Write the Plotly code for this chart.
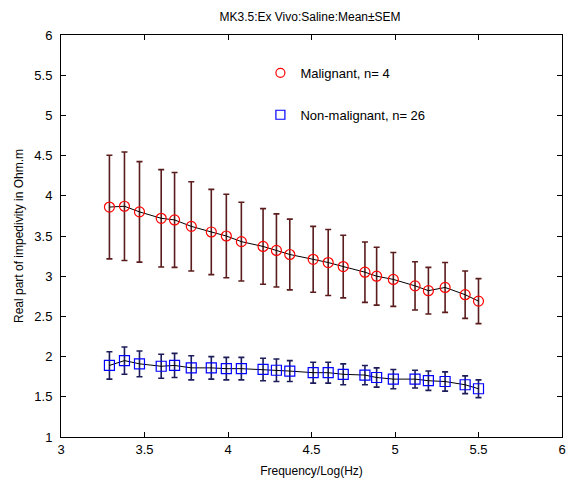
import plotly.graph_objects as go

freq_log = [3.29, 3.38, 3.47, 3.60, 3.68, 3.78, 3.90, 3.99, 4.08, 4.21, 4.29, 4.37,
            4.51, 4.60, 4.69, 4.82, 4.89, 4.99, 5.12, 5.20, 5.30, 5.42, 5.50]

malig_mean = [3.86, 3.87, 3.80, 3.72, 3.70, 3.62, 3.55, 3.50, 3.43, 3.37, 3.32, 3.27,
              3.21, 3.17, 3.12, 3.05, 3.00, 2.96, 2.88, 2.82, 2.86, 2.77, 2.69]
malig_sem = [0.645, 0.675, 0.625, 0.605, 0.59, 0.555, 0.53, 0.52, 0.49, 0.47, 0.455, 0.44,
             0.41, 0.41, 0.39, 0.375, 0.36, 0.335, 0.30, 0.29, 0.31, 0.295, 0.28]

nonmalig_mean = [1.89, 1.95, 1.91, 1.88, 1.89, 1.86, 1.86, 1.85, 1.85, 1.84, 1.83, 1.82,
                 1.80, 1.80, 1.78, 1.77, 1.74, 1.72, 1.72, 1.70, 1.69, 1.65, 1.60]
nonmalig_sem = [0.17, 0.17, 0.16, 0.15, 0.15, 0.15, 0.14, 0.14, 0.14, 0.14, 0.14, 0.13,
                0.13, 0.13, 0.13, 0.12, 0.12, 0.12, 0.11, 0.12, 0.12, 0.11, 0.11]

x_ticks = [3, 3.5, 4, 4.5, 5, 5.5, 6]
y_ticks = [1, 1.5, 2, 2.5, 3, 3.5, 4, 4.5, 5, 5.5, 6]

FONT = "Liberation Sans, Arial, sans-serif"

fig = go.Figure()

fig.add_trace(go.Scatter(
    x=freq_log, y=malig_mean, mode="lines+markers", showlegend=False,
    line=dict(color="black", width=1),
    marker=dict(symbol="circle-open", size=10, color="#ff0000", line=dict(width=1.2)),
    error_y=dict(type="data", array=malig_sem, visible=True, color="#5a1c1c",
                 thickness=1.6, width=3),
))
fig.add_trace(go.Scatter(
    x=freq_log, y=nonmalig_mean, mode="lines+markers", showlegend=False,
    line=dict(color="black", width=1),
    marker=dict(symbol="square-open", size=10, color="#0000ff", line=dict(width=1.2)),
    error_y=dict(type="data", array=nonmalig_sem, visible=True, color="#1c1c5a",
                 thickness=1.6, width=3),
))

# legend-only entries (markers only, as in the reference)
fig.add_trace(go.Scatter(
    x=[None], y=[None], mode="markers", name="Malignant, n= 4", legendgroup="a",
    marker=dict(symbol="circle-open", size=9, color="#ff0000", line=dict(width=1.2)),
))
fig.add_trace(go.Scatter(
    x=[None], y=[None], mode="markers", name="Non-malignant, n= 26", legendgroup="b",
    marker=dict(symbol="square-open", size=9, color="#0000ff", line=dict(width=1.2)),
))

axis_common = dict(
    showgrid=False, zeroline=False, showline=True, linecolor="black", linewidth=1,
    mirror="ticks", ticks="inside", ticklen=5, tickcolor="black", automargin=False,
    tickfont=dict(family=FONT, size=13, color="black"),
)

fig.update_layout(
    width=572, height=481,
    margin=dict(l=61, r=10, t=35, b=44),
    paper_bgcolor="white", plot_bgcolor="white",
    font=dict(family=FONT, size=13, color="black"),
    title=dict(text="MK3.5:Ex Vivo:Saline:Mean±SEM", x=0.542, xanchor="center",
               y=0.966, yanchor="middle", font=dict(family=FONT, size=12, color="black")),
    xaxis=dict(range=[3, 6], tickvals=x_ticks, ticktext=[str(v) for v in x_ticks],
               title=dict(text="Frequency/Log(Hz)", standoff=11,
                          font=dict(family=FONT, size=12)),
               **axis_common),
    yaxis=dict(range=[1, 6], tickvals=y_ticks, ticktext=[("%g" % v) for v in y_ticks],
               ticklabelstandoff=5,
               title=dict(text="Real part of impedivity in Ohm.m", standoff=8,
                          font=dict(family=FONT, size=12)),
               **axis_common),
    legend=dict(x=0.398, y=0.943, xanchor="left", yanchor="top",
                bgcolor="rgba(0,0,0,0)", borderwidth=0, itemwidth=30,
                tracegroupgap=22, traceorder="grouped",
                font=dict(family=FONT, size=13, color="black")),
)

fig.write_html("out.html")
